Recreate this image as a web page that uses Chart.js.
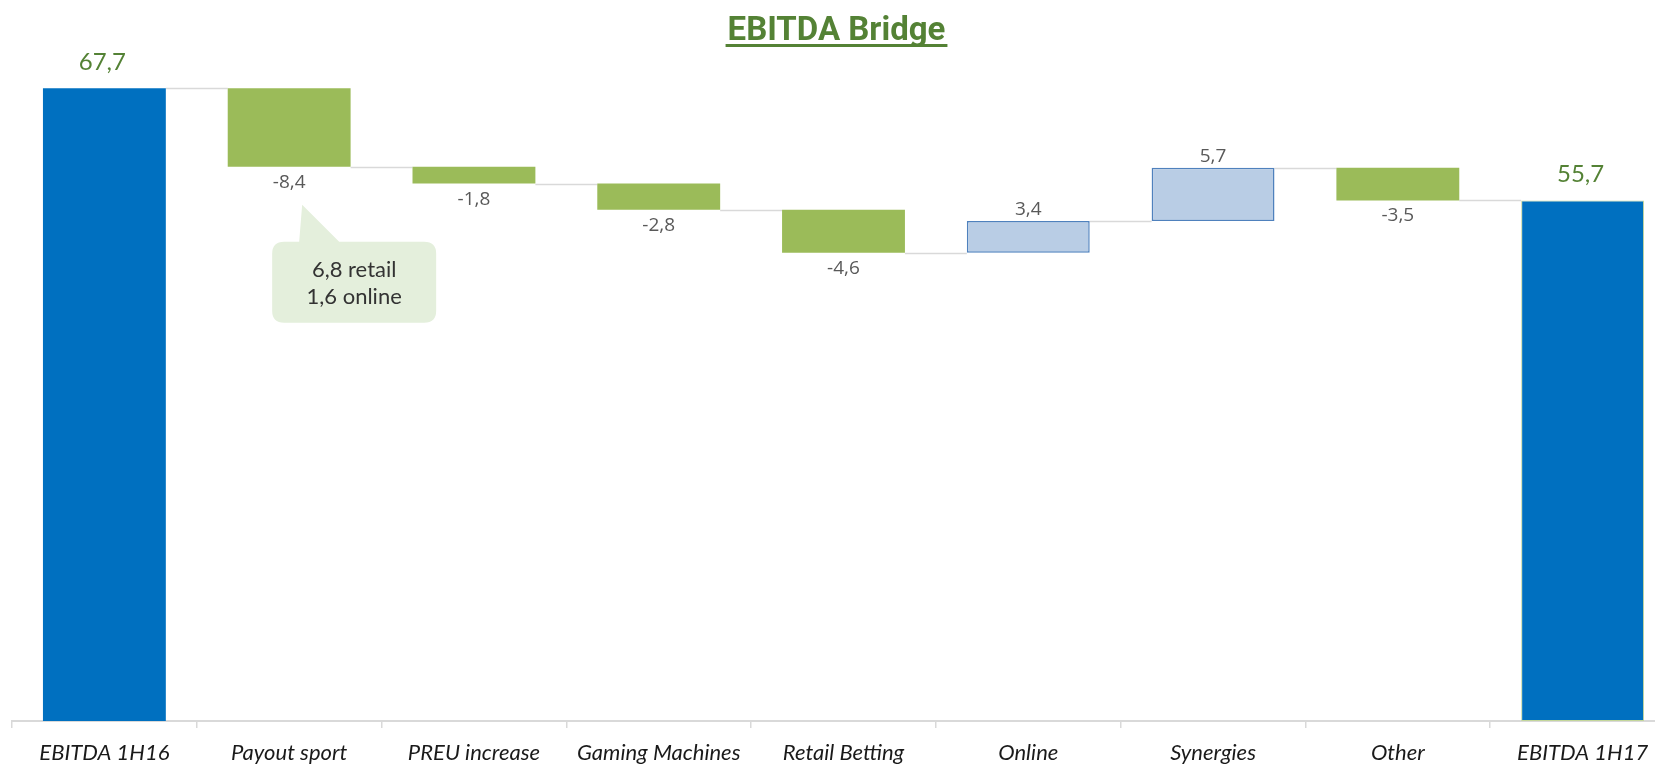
<!DOCTYPE html>
<html>
<head>
<meta charset="utf-8">
<script src="https://cdn.jsdelivr.net/npm/chart.js@4.4.1/dist/chart.umd.min.js"></script>
<style>
  html, body { margin: 0; padding: 0; background: #fff; overflow: hidden; }
  #wrap { width: 1675px; height: 770px; }
</style>
</head>
<body>
<div id="wrap"><canvas id="bridge" width="1675" height="770"></canvas></div>
<script>
// Data
const categories = ['EBITDA 1H16', 'Payout sport', 'PREU increase', 'Gaming Machines', 'Retail Betting', 'Online', 'Synergies', 'Other', 'EBITDA 1H17'];
const startTotal = 67.7;
const deltas = [-8.4, -1.8, -2.8, -4.6, 3.4, 5.7, -3.5];
const endTotal = 55.7;
const calloutLines = ['6,8 retail', '1,6 online'];
const yMin = 0;
const yMax = 75;

// Colours
const BLUE = '#0070C0';
const GREEN = '#9BBB59';
const LIGHT_BLUE = '#B9CDE5';
const LIGHT_BLUE_BORDER = '#4F81BD';
const TITLE_GREEN = '#548235';
const LINE_GREY = '#D9D9D9';

// Build floating bars + running levels
const ranges = [[0, startTotal]];
const levels = [startTotal];
const kinds = ['total'];
let run = startTotal;
deltas.forEach(d => {
  const next = +(run + d).toFixed(1);
  ranges.push([Math.min(run, next), Math.max(run, next)]);
  kinds.push(d < 0 ? 'down' : 'up');
  run = next;
  levels.push(run);
});
ranges.push([0, endTotal]);
levels.push(endTotal);
kinds.push('total');

const barLabels = [startTotal, ...deltas, endTotal];
const fmt = v => v.toFixed(1).replace('.', ',');

const bgColors = kinds.map(k => k === 'total' ? BLUE : (k === 'down' ? GREEN : LIGHT_BLUE));
const bdColors = kinds.map((k, i) => k === 'up' ? LIGHT_BLUE_BORDER : (i === kinds.length - 1 ? '#C4D79B' : 'rgba(0,0,0,0)'));
const bdWidths = kinds.map((k, i) => k === 'up' ? 1.5 : (i === kinds.length - 1 ? 1 : 0));

// Connector lines between bars
const connectorPlugin = {
  id: 'connectors',
  beforeDatasetsDraw(chart) {
    const { ctx } = chart;
    const y = chart.scales.y;
    const bars = chart.getDatasetMeta(0).data;
    ctx.save();
    ctx.strokeStyle = LINE_GREY;
    ctx.lineWidth = 1.5;
    for (let i = 0; i < bars.length - 1; i++) {
      const py = Math.round(y.getPixelForValue(levels[i])) + 0.5;
      ctx.beginPath();
      ctx.moveTo(bars[i].x + bars[i].width / 2, py);
      ctx.lineTo(bars[i + 1].x - bars[i + 1].width / 2, py);
      ctx.stroke();
    }
    ctx.restore();
  }
};

// Value labels, title and callout
const labelPlugin = {
  id: 'labels',
  afterDraw(chart) {
    const { ctx } = chart;
    const y = chart.scales.y;
    const bars = chart.getDatasetMeta(0).data;
    ctx.save();
    ctx.textAlign = 'center';
    ctx.textBaseline = 'alphabetic';
    bars.forEach((bar, i) => {
      const top = y.getPixelForValue(ranges[i][1]);
      const bottom = y.getPixelForValue(ranges[i][0]);
      if (kinds[i] === 'total') {
        ctx.font = '24px Lato';
        ctx.fillStyle = TITLE_GREEN;
        ctx.fillText(fmt(barLabels[i]), bar.x - 2, top - 18);
      } else if (kinds[i] === 'down') {
        ctx.font = '19px "Open Sans"';
        ctx.fillStyle = '#595959';
        ctx.fillText(fmt(barLabels[i]), bar.x, bottom + 21);
      } else {
        ctx.font = '19px "Open Sans"';
        ctx.fillStyle = '#595959';
        ctx.fillText(fmt(barLabels[i]), bar.x, top - 6);
      }
    });

    // title
    const tx = (chart.chartArea.left + chart.chartArea.right) / 2 - 7;
    ctx.font = 'bold 33px Roboto';
    ctx.fillStyle = TITLE_GREEN;
    ctx.fillText('EBITDA Bridge', tx, 40);
    const tw = ctx.measureText('EBITDA Bridge').width;
    ctx.fillRect(tx - tw / 2 - 2, 44, tw + 4, 3);

    // callout under "Payout sport"
    const b = bars[1];
    const anchorY = y.getPixelForValue(ranges[1][0]);
    const bx = b.x - 17, by = anchorY + 75, bw = 164, bh = 81, r = 12;
    ctx.fillStyle = '#E4EFDC';
    ctx.beginPath();
    ctx.moveTo(bx + r, by);
    ctx.lineTo(bx + 27, by);
    ctx.lineTo(b.x + 13, anchorY + 38);
    ctx.lineTo(bx + 67, by);
    ctx.lineTo(bx + bw - r, by);
    ctx.quadraticCurveTo(bx + bw, by, bx + bw, by + r);
    ctx.lineTo(bx + bw, by + bh - r);
    ctx.quadraticCurveTo(bx + bw, by + bh, bx + bw - r, by + bh);
    ctx.lineTo(bx + r, by + bh);
    ctx.quadraticCurveTo(bx, by + bh, bx, by + bh - r);
    ctx.lineTo(bx, by + r);
    ctx.quadraticCurveTo(bx, by, bx + r, by);
    ctx.closePath();
    ctx.fill();
    ctx.font = '22px Lato';
    ctx.fillStyle = '#333333';
    calloutLines.forEach((t, k) => {
      ctx.fillText(t, bx + bw / 2, by + 35 + k * 27);
    });
    ctx.restore();
  }
};

const ctx = document.getElementById('bridge').getContext('2d');
new Chart(ctx, {
  type: 'bar',
  data: {
    labels: categories,
    datasets: [{
      data: ranges,
      backgroundColor: bgColors,
      borderColor: bdColors,
      borderWidth: bdWidths,
      borderSkipped: false,
      categoryPercentage: 1,
      barPercentage: 0.665
    }]
  },
  options: {
    responsive: false,
    animation: false,
    layout: { padding: { top: 20, left: 12, right: 0, bottom: 0 } },
    plugins: {
      legend: { display: false },
      tooltip: { enabled: false }
    },
    scales: {
      x: {
        grid: { drawOnChartArea: false, offset: true, tickLength: 7, color: LINE_GREY, lineWidth: 1.5 },
        border: { color: LINE_GREY, width: 2 },
        ticks: {
          color: '#1a1a1a',
          padding: 12,
          font: { family: 'Lato', style: 'italic', size: 22 }
        },
        afterFit: s => { s.height = 49; }
      },
      y: { display: false, min: yMin, max: yMax }
    }
  },
  plugins: [connectorPlugin, labelPlugin]
});
</script>
</body>
</html>
